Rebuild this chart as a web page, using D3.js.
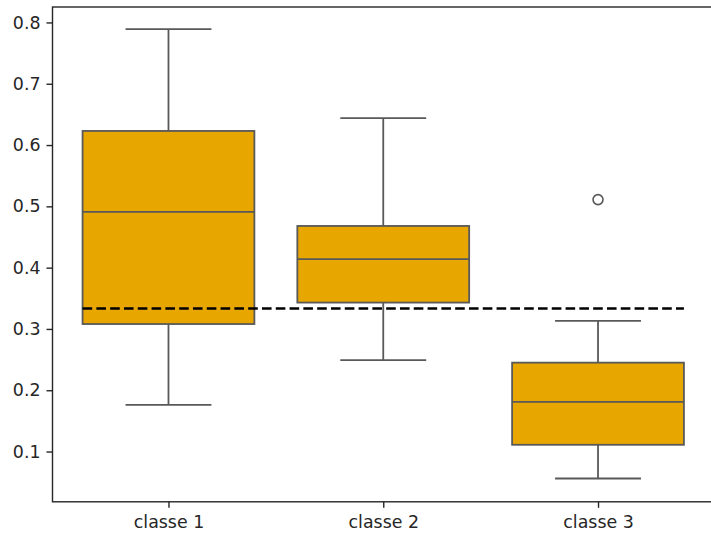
<!DOCTYPE html>
<html>
<head>
<meta charset="utf-8">
<script src="https://cdn.jsdelivr.net/npm/d3@7"></script>
<style>
  html, body { margin: 0; padding: 0; background: #fff; }
  svg { display: block; }
  text { font-family: "DejaVu Sans", sans-serif; fill: #262626; }
</style>
</head>
<body>
<svg id="chart" width="711" height="534"></svg>
<script>
// ---- data ----
const categories = ["classe 1", "classe 2", "classe 3"];
const whiskerLow  = [0.176, 0.249, 0.056];
const q1          = [0.308, 0.343, 0.111];
const median      = [0.491, 0.414, 0.181];
const q3          = [0.623, 0.468, 0.245];
const whiskerHigh = [0.789, 0.644, 0.313];
const outliers    = [[], [], [0.511]];
const referenceLine = 1 / 3;
const yTicks = [0.1, 0.2, 0.3, 0.4, 0.5, 0.6, 0.7, 0.8];

(function () {
  // ---- layout ----
  const svg = d3.select("#chart");
  const mLeft = 52.5, mRight = 714, mTop = 7, mBottom = 501.8;
  const x = d3.scaleLinear().domain([-0.54, categories.length - 1 + 0.54]).range([mLeft, mRight]);
  const y = d3.scaleLinear().domain([0.018, 0.8252]).range([mBottom, mTop]);

  const boxFill = "#e8a600";
  const lineCol = "#595959";
  const boxW = 0.8, capW = 0.4;

  const boxes = categories.map((c, i) => ({
    i, c, lo: whiskerLow[i], q1: q1[i], med: median[i], q3: q3[i], hi: whiskerHigh[i], out: outliers[i]
  }));

  const g = svg.append("g");

  boxes.forEach(b => {
    g.append("line").attr("x1", x(b.i)).attr("x2", x(b.i)).attr("y1", y(b.q1)).attr("y2", y(b.lo))
      .attr("stroke", lineCol).attr("stroke-width", 1.8);
    g.append("line").attr("x1", x(b.i)).attr("x2", x(b.i)).attr("y1", y(b.q3)).attr("y2", y(b.hi))
      .attr("stroke", lineCol).attr("stroke-width", 1.8);
    [b.lo, b.hi].forEach(v => {
      g.append("line").attr("x1", x(b.i - capW / 2)).attr("x2", x(b.i + capW / 2))
        .attr("y1", y(v)).attr("y2", y(v)).attr("stroke", lineCol).attr("stroke-width", 1.8);
    });
    g.append("rect").attr("x", x(b.i - boxW / 2)).attr("width", x(b.i + boxW / 2) - x(b.i - boxW / 2))
      .attr("y", y(b.q3)).attr("height", y(b.q1) - y(b.q3))
      .attr("fill", boxFill).attr("stroke", lineCol).attr("stroke-width", 1.8);
    g.append("line").attr("x1", x(b.i - boxW / 2)).attr("x2", x(b.i + boxW / 2))
      .attr("y1", y(b.med)).attr("y2", y(b.med)).attr("stroke", lineCol).attr("stroke-width", 1.8);
    b.out.forEach(v => {
      g.append("circle").attr("cx", x(b.i)).attr("cy", y(v)).attr("r", 5)
        .attr("fill", "none").attr("stroke", lineCol).attr("stroke-width", 1.6);
    });
  });

  // reference dashed line
  g.append("line")
    .attr("x1", x(-boxW / 2)).attr("x2", x(categories.length - 1 + boxW / 2))
    .attr("y1", y(referenceLine)).attr("y2", y(referenceLine))
    .attr("stroke", "#000").attr("stroke-width", 2.6).attr("stroke-dasharray", "9.6,4.2");

  // axes
  const yAxis = d3.axisLeft(y).tickValues(yTicks).tickFormat(d3.format(".1f")).tickSize(6).tickPadding(6);
  const yg = svg.append("g").attr("transform", `translate(${mLeft},0)`).call(yAxis);
  const xAxis = d3.axisBottom(x).tickValues(categories.map((c, i) => i)).tickFormat(i => categories[i]).tickSize(6).tickPadding(8);
  const xg = svg.append("g").attr("transform", `translate(0,${mBottom})`).call(xAxis);
  [yg, xg].forEach(a => {
    a.select(".domain").remove();
    a.selectAll(".tick line").attr("stroke", "#262626").attr("stroke-width", 1.4);
    a.selectAll(".tick text").style("font-size", "17.4px").attr("fill", "#262626");
  });

  // frame
  svg.append("rect").attr("x", mLeft).attr("y", mTop).attr("width", mRight - mLeft).attr("height", mBottom - mTop)
    .attr("fill", "none").attr("stroke", "#262626").attr("stroke-width", 1.4);
})();
</script>
</body>
</html>
